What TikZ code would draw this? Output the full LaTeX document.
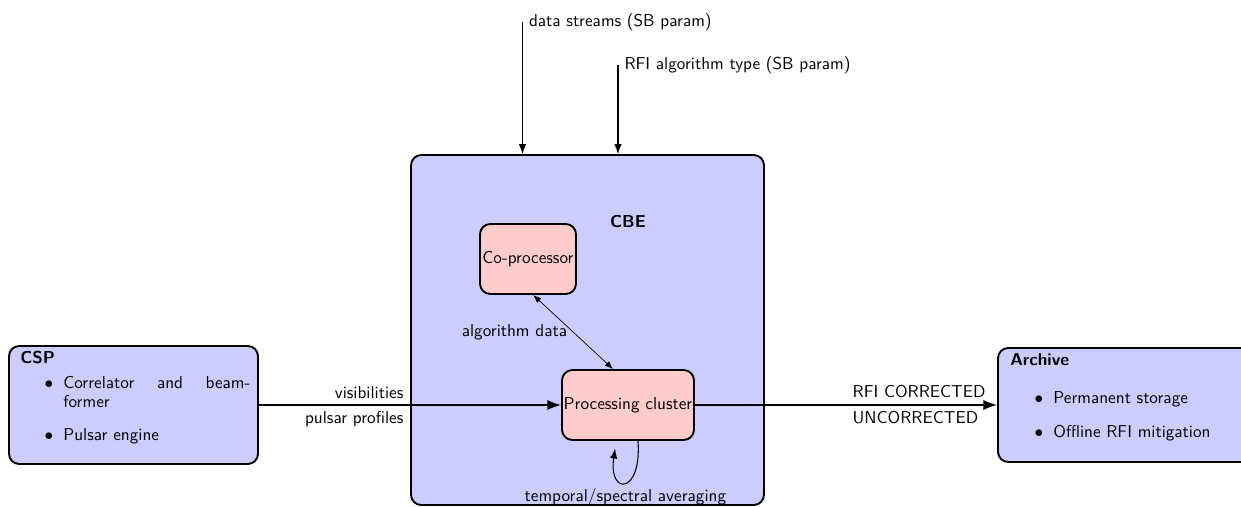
\documentclass[tikz,border=0pt]{standalone}
\usepackage{fontspec}
\usetikzlibrary{arrows.meta,calc}
\tikzset{
  bigbox/.style={draw, line width=1.1pt, rounded corners=6pt, fill=blue!20, inner sep=0pt},
  subbox/.style={draw, line width=1.1pt, rounded corners=6pt, fill=red!20, inner sep=0pt},
  txt/.style={inner sep=0pt, anchor=base west},
  bul/.style={inner sep=0pt, anchor=base},
  mainarrow/.style={line width=1.1pt, -{Latex}},
  thinarrow/.style={semithick, -{Latex}},
  dblarrow/.style={thin, {Latex}-{Latex}},
}
\begin{document}
\begin{tikzpicture}[x=0.5814pt, y=-0.5814pt, font=\sffamily]
\useasboundingbox (0,0) rectangle (1241,507);
% boxes
\node[bigbox, minimum width=144.8pt, minimum height=68.6pt] (csp) at (133.5,405) {};
\node[bigbox, minimum width=205.2pt, minimum height=203.5pt] (cbe) at (587.5,330) {};
\node[bigbox, minimum width=147.7pt, minimum height=66.3pt] (arch) at (1125,405) {};
\node[subbox, minimum width=55.8pt, minimum height=40.7pt] (cop) at (528,259) {Co-processor};
\node[subbox, minimum width=76.7pt, minimum height=40.7pt] (pc) at (628,405) {Processing cluster};
% CSP content
\node[txt, font=\sffamily\bfseries] (csptitle) at (20,363) {CSP};
\node[bul] (cspb1) at (49,388) {$\bullet$};
\node[txt] (cspl1) at (63,388) {\makebox[108.7pt][s]{Correlator and beam-}};
\node[txt] (cspl2) at (63,407) {former};
\node[bul] (cspb2) at (49,440) {$\bullet$};
\node[txt] (cspl3) at (63,440) {Pulsar engine};
% Archive content
\node[txt, font=\sffamily\bfseries] (archtitle) at (1010,365) {Archive};
\node[bul] (archb1) at (1039,403) {$\bullet$};
\node[txt] (archl1) at (1053,403) {Permanent storage};
\node[bul] (archb2) at (1039,437) {$\bullet$};
\node[txt] (archl2) at (1053,437) {Offline RFI mitigation};
% CBE label
\node[font=\sffamily\bfseries] (cbelabel) at (628,222) {CBE};
% top inputs
\coordinate (dsin) at (522.5,22);
\coordinate (rfiin) at (618,65);
\draw[thinarrow] (dsin) node[right, inner sep=3.5pt] (dslabel) {data streams (SB param)} -- (dsin |- cbe.north);
\draw[thinarrow] (rfiin) node[right, inner sep=3.5pt] (rfilabel) {RFI algorithm type (SB param)} -- (rfiin |- cbe.north);
% main flow
\draw[mainarrow] (csp) -- node[pos=0.5, above left] (vislabel) {visibilities} node[pos=0.5, below left] (pplabel) {pulsar profiles} (pc);
\draw[mainarrow] (pc) -- node[pos=0.5, above right] (corlabel) {RFI CORRECTED} node[pos=0.5, below right] (uncorlabel) {UNCORRECTED} (arch);
% co-processor link
\draw[dblarrow] ([xshift=3pt]cop.south) -- node[left] (algolabel) {algorithm data} ([xshift=-8.7pt]pc.north);
% loop
\draw[thinarrow] ([xshift=5.8pt]pc.south) .. controls +(4,54) and +(-7,47) .. node[pos=0.5, below] (avglabel) {temporal/spectral averaging} ([xshift=-7.5pt, yshift=-4.5pt]pc.south);
\end{tikzpicture}
\end{document}
